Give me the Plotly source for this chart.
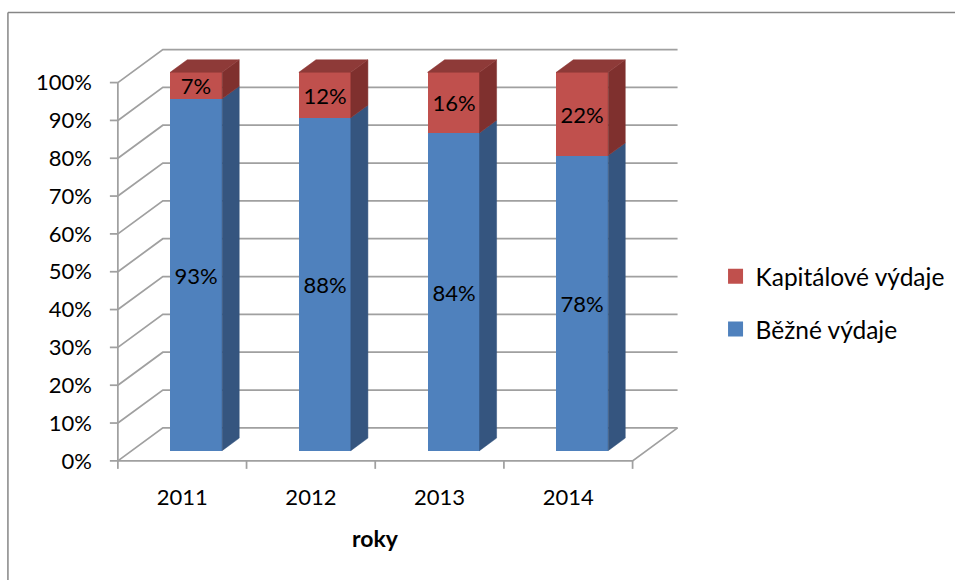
import plotly.graph_objects as go

# ---------------- data ----------------
years = ["2011", "2012", "2013", "2014"]
bezne = [93, 88, 84, 78]            # Běžné výdaje (%)
kapitalove = [7, 12, 16, 22]        # Kapitálové výdaje (%)
y_ticks = [0, 10, 20, 30, 40, 50, 60, 70, 80, 90, 100]

# ---------------- geometry ----------------
W, H = 955, 580
X_FRONT, X_FLOOR_END = 118, 633      # px of front axis and end of floor
Y_ZERO, Y_FULL = 461, 83              # px of 0 % and 100 %
PPC = (X_FLOOR_END - X_FRONT) / len(years)   # px per category
PPP = (Y_ZERO - Y_FULL) / 100.0               # px per percent
D = 45 / PPC          # depth offset in category units
E = 33 / PPP          # depth offset in percent units
F1, F2 = 0.31, 0.69   # bar front / back depth fractions
BW = 52 / PPC         # bar width
TX = 8 / PPC          # y tick length
TY = 8 / PPP          # x tick length

pad_l, pad_r = 0.1, 0.05
pad_b, pad_t = 4.0, 2.0
x_range = [-0.5 - pad_l, len(years) - 0.5 + D + pad_r]
y_range = [-pad_b, 100 + E + pad_t]
left_px = X_FRONT - pad_l * PPC
right_px = X_FLOOR_END + (D + pad_r) * PPC
top_px = Y_ZERO - (100 + E + pad_t) * PPP
bot_px = Y_ZERO + pad_b * PPP
plot_w = right_px - left_px
plot_h = bot_px - top_px

def px_to_paper_x(px):
    return (px - left_px) / plot_w

def px_to_paper_y(py):
    return (bot_px - py) / plot_h

GRID = "#A0A0A0"
BLUE, BLUE_SIDE = "#4F81BD", "#35557F"
RED, RED_SIDE, RED_TOP = "#C0504D", "#7F302E", "#8E3A38"
FONT = "Lato"

fig = go.Figure()

# ---------------- walls / gridlines ----------------
shapes = []
x_first = -0.5
x_last = len(years) - 0.5
for v in y_ticks:
    shapes.append(dict(type="path", layer="below", xref="x", yref="y",
                       path=f"M{x_first},{v} L{x_first + D},{v + E} L{x_last + D},{v + E}",
                       line=dict(color=GRID, width=1.75)))
    shapes.append(dict(type="line", layer="below", xref="x", yref="y",
                       x0=x_first - TX, y0=v, x1=x_first, y1=v,
                       line=dict(color=GRID, width=1.75)))
# front axis line and floor front edge
shapes.append(dict(type="line", layer="below", xref="x", yref="y",
                   x0=x_first, y0=0, x1=x_first, y1=100, line=dict(color=GRID, width=1.75)))
shapes.append(dict(type="path", layer="below", xref="x", yref="y",
                   path=f"M{x_first},0 L{x_last},0 L{x_last + D},{E}",
                   line=dict(color=GRID, width=1.75)))
for k in range(len(years) + 1):
    xv = x_first + k
    shapes.append(dict(type="line", layer="below", xref="x", yref="y",
                       x0=xv, y0=0, x1=xv, y1=-TY, line=dict(color=GRID, width=1.75)))
# outer frame (left and top edges)
shapes.append(dict(type="line", xref="paper", yref="paper",
                   x0=px_to_paper_x(8), y0=px_to_paper_y(13), x1=px_to_paper_x(8), y1=px_to_paper_y(600),
                   line=dict(color="#868686", width=1.5)))
shapes.append(dict(type="line", xref="paper", yref="paper",
                   x0=px_to_paper_x(8), y0=px_to_paper_y(13), x1=px_to_paper_x(980), y1=px_to_paper_y(13),
                   line=dict(color="#868686", width=1.5)))

# ---------------- bars (front faces) ----------------
xs = [i + F1 * D for i in range(len(years))]
fig.add_trace(go.Bar(
    name="Běžné výdaje", x=xs, y=bezne, base=[F1 * E] * len(years), width=BW,
    marker=dict(color=BLUE, line=dict(width=0)),
    text=[f"{v}%" for v in bezne], textposition="inside", insidetextanchor="middle",
    textangle=0, textfont=dict(family=FONT, size=22, color="black"),
    showlegend=False, hoverinfo="skip"))
fig.add_trace(go.Bar(
    name="Kapitálové výdaje", x=xs, y=kapitalove, base=[F1 * E + b for b in bezne], width=BW,
    marker=dict(color=RED, line=dict(width=0)),
    text=[f"{v}%" for v in kapitalove], textposition="inside", insidetextanchor="middle",
    textangle=0, textfont=dict(family=FONT, size=22, color="black"),
    showlegend=False, hoverinfo="skip"))

# ---------------- side and top faces ----------------
def side_poly(i, b0, b1):
    xr = i + F1 * D + BW / 2
    dx = (F2 - F1) * D
    xsp = [xr, xr + dx, xr + dx, xr, xr]
    ysp = [b0 + F1 * E, b0 + F2 * E, b1 + F2 * E, b1 + F1 * E, b0 + F1 * E]
    return xsp, ysp

bx, by, rx, ry, tx, ty = [], [], [], [], [], []
for i in range(len(years)):
    a, b = side_poly(i, 0, bezne[i])
    bx += a + [None]; by += b + [None]
    top = bezne[i] + kapitalove[i]
    a, b = side_poly(i, bezne[i], top)
    rx += a + [None]; ry += b + [None]
    xl = i + F1 * D - BW / 2
    xr = i + F1 * D + BW / 2
    dx = (F2 - F1) * D
    tx += [xl, xr, xr + dx, xl + dx, xl, None]
    ty += [top + F1 * E, top + F1 * E, top + F2 * E, top + F2 * E, top + F1 * E, None]

for sx, sy, col in [(bx, by, BLUE_SIDE), (rx, ry, RED_SIDE), (tx, ty, RED_TOP)]:
    fig.add_trace(go.Scatter(x=sx, y=sy, mode="lines", fill="toself", fillcolor=col,
                             line=dict(color=col, width=0.5), showlegend=False,
                             hoverinfo="skip"))

# ---------------- legend entries ----------------
for name, col, grp in [("Kapitálové výdaje", RED, "k"), ("Běžné výdaje", BLUE, "b")]:
    fig.add_trace(go.Scatter(x=[None], y=[None], mode="markers", name=name,
                             marker=dict(symbol="square", size=15, color=col),
                             legendgroup=grp, showlegend=True, hoverinfo="skip"))

fig.update_layout(
    width=W, height=H,
    margin=dict(l=left_px, r=W - right_px, t=top_px, b=H - bot_px, autoexpand=False),
    paper_bgcolor="white", plot_bgcolor="white",
    barmode="overlay", bargap=0,
    font=dict(family=FONT, size=22, color="black"),
    shapes=shapes,
    showlegend=True,
    legend=dict(x=px_to_paper_x(716), y=px_to_paper_y(303), xanchor="left", yanchor="middle",
                font=dict(family=FONT, size=24.5, color="black"),
                tracegroupgap=18, itemwidth=30, bgcolor="rgba(0,0,0,0)"),
    uniformtext=dict(minsize=22, mode="show"),
    annotations=[dict(text="<b>roky</b>", xref="x", yref="paper",
                      x=(x_first + x_last) / 2, y=px_to_paper_y(538),
                      xanchor="center", yanchor="middle", showarrow=False,
                      font=dict(family=FONT, size=23, color="black"))],
)
fig.update_xaxes(range=x_range, tickvals=list(range(len(years))), ticktext=years,
                 showgrid=False, zeroline=False, showline=False, ticks="",
                 ticklabelstandoff=6, automargin=False)
fig.update_yaxes(range=y_range, tickvals=y_ticks, ticktext=[f"{v}%" for v in y_ticks],
                 showgrid=False, zeroline=False, showline=False, ticks="",
                 ticklabelstandoff=12, automargin=False)

fig.write_html("out.html", config={"displayModeBar": False},
               post_script="document.body.style.margin='0px';")
